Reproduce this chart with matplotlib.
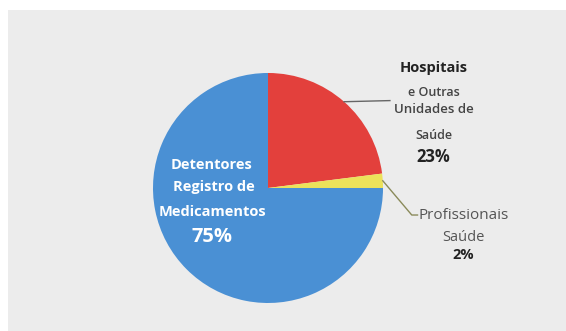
import numpy as np
import matplotlib.pyplot as plt
from matplotlib.patches import Rectangle

# dados do grafico
categorias = ['Hospitais e Outras Unidades de Saúde', 'Profissionais Saúde', 'Detentores Registro de Medicamentos']
valores = [23, 2, 75]
cores = ['#e3403c', '#ece25a', '#4a90d4']

plt.rcParams['font.family'] = ['Open Sans', 'DejaVu Sans']

fig = plt.figure(figsize=(5.66, 3.31), dpi=100, facecolor='white')
# painel cinza de fundo
fig.patches.append(Rectangle((0.014, 0), 0.986, 0.97, transform=fig.transFigure,
                             facecolor='#ececec', edgecolor='none', zorder=-10))

ax = fig.add_axes([0.2703, 0.0846, 0.4064, 0.6949])
ax.set_zorder(1)
wedges, _ = ax.pie(valores, colors=cores, startangle=90, counterclock=False,
                   wedgeprops=dict(linewidth=0))
ax.set_aspect('auto')
ax.set_xlim(-1, 1)
ax.set_ylim(-1, 1)
ax.axis('off')

# rotulo da fatia azul
ax.text(-0.49, 0.20, 'Detentores', color='white', fontsize=10.5, fontweight='bold', ha='center', va='center')
ax.text(-0.47, 0.01, 'Registro de', color='white', fontsize=10.5, fontweight='bold', ha='center', va='center')
ax.text(-0.48, -0.21, 'Medicamentos', color='white', fontsize=10.5, fontweight='bold', ha='center', va='center')
ax.text(-0.49, -0.43, '75%', color='white', fontsize=14.5, fontweight='bold', ha='center', va='center')

# rotulo hospitais
ax.text(1.44, 1.04, 'Hospitais', color='#222222', fontsize=10.5, fontweight='bold', ha='center', va='center')
ax.text(1.44, 0.83, 'e Outras', color='#444444', fontsize=9, fontweight='semibold', ha='center', va='center')
ax.text(1.44, 0.68, 'Unidades de', color='#444444', fontsize=9.5, fontweight='semibold', ha='center', va='center')
ax.text(1.44, 0.46, 'Saúde', color='#444444', fontsize=9, fontweight='semibold', ha='center', va='center')
ax.text(1.44, 0.27, '23%', color='#222222', fontsize=12, fontweight='bold', ha='center', va='center')

# rotulo profissionais
ax.text(1.31, -0.235, 'Profissionais', color='#555555', fontsize=11, ha='left', va='center')
ax.text(1.70, -0.43, 'Saúde', color='#555555', fontsize=10.5, ha='center', va='center')
ax.text(1.70, -0.58, '2%', color='#222222', fontsize=10.5, fontweight='bold', ha='center', va='center')

# linhas de chamada
w = wedges[0]
ang = np.deg2rad((w.theta1 + w.theta2) / 2)
ax.plot([np.cos(ang), 1.06], [np.sin(ang), 0.76], color='#666666', lw=1.0, clip_on=False)
w = wedges[1]
ang = np.deg2rad((w.theta1 + w.theta2) / 2)
ax.plot([np.cos(ang), 1.25, 1.30], [np.sin(ang), -0.235, -0.235], color='#8a8a5a', lw=1.0, clip_on=False)

fig.savefig('out.png', dpi=100, facecolor='white')
